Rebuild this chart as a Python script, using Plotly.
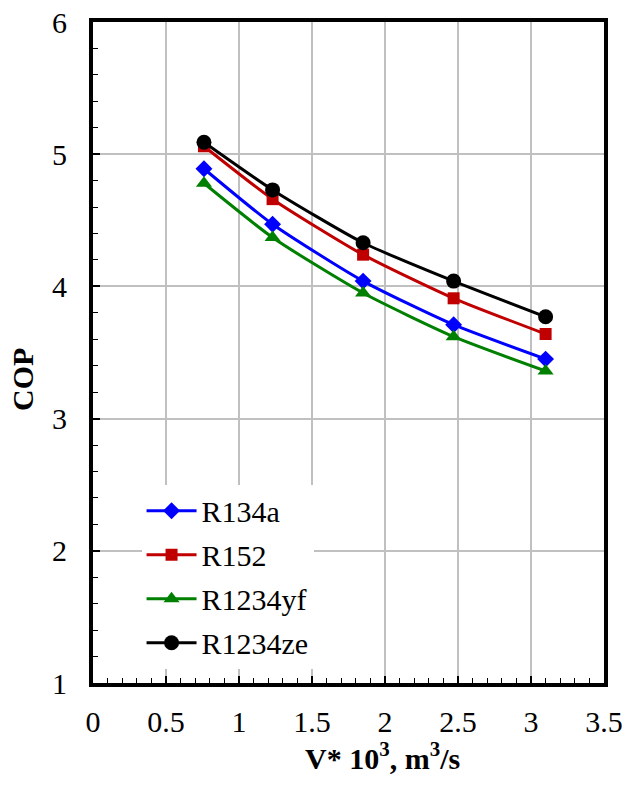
import plotly.graph_objects as go

# Data
flow = [0.76, 1.23, 1.85, 2.47, 3.10]          # V* 10^3, m3/s
cop_r134a = [4.89, 4.47, 4.04, 3.71, 3.45]
cop_r152 = [5.06, 4.66, 4.24, 3.91, 3.64]
cop_r1234yf = [4.78, 4.37, 3.95, 3.62, 3.36]
cop_r1234ze = [5.09, 4.73, 4.33, 4.04, 3.77]

series_names = ["R134a", "R152", "R1234yf", "R1234ze"]
series_values = [cop_r134a, cop_r152, cop_r1234yf, cop_r1234ze]
colors = ["#0000FF", "#C00000", "#008000", "#000000"]
symbols = ["diamond", "square", "triangle-up", "circle"]
msizes = [13, 12, 14, 15]

x_ticks = [0, 0.5, 1, 1.5, 2, 2.5, 3, 3.5]
x_tick_labels = ["0", "0.5", "1", "1.5", "2", "2.5", "3", "3.5"]
y_ticks = [1, 2, 3, 4, 5, 6]
y_tick_labels = ["1", "2", "3", "4", "5", "6"]

FONT = "Liberation Serif, Times New Roman, serif"
FS = 30

fig = go.Figure()
for i, (name, vals) in enumerate(zip(series_names, series_values)):
    fig.add_trace(go.Scatter(
        x=flow, y=vals, name=name, mode="lines+markers",
        legendgroup=name,
        line=dict(color=colors[i], width=3, shape="spline", smoothing=0.6),
        marker=dict(color=colors[i], symbol=symbols[i], size=msizes[i]),
    ))

fig.update_layout(
    width=622, height=791,
    margin=dict(l=93, r=18, t=22, b=108, autoexpand=False),
    plot_bgcolor="white", paper_bgcolor="white",
    font=dict(family=FONT, size=FS, color="black"),
    showlegend=True,
    legend=dict(
        x=0.095, y=0.30, xanchor="left", yanchor="top",
        bgcolor="white", borderwidth=0,
        font=dict(family=FONT, size=FS, color="black"),
        tracegroupgap=2, itemwidth=50,
    ),
    xaxis=dict(
        range=[0, 3.5], tickmode="array", tickvals=x_ticks, ticktext=x_tick_labels,
        automargin=False, ticklabeloverflow="allow",
        showgrid=True, gridcolor="#C0C0C0", gridwidth=1.5,
        showline=True, linecolor="black", linewidth=4, mirror=True,
        ticks="inside", ticklen=7, tickwidth=1.5, tickcolor="black",
        ticklabelstandoff=9,
        minor=dict(dtick=0.1, ticks="inside", ticklen=5, tickwidth=1, tickcolor="black", showgrid=False),
        zeroline=False,
        tickfont=dict(family=FONT, size=FS),
    ),
    yaxis=dict(
        range=[1, 6], tickmode="array", tickvals=y_ticks, ticktext=y_tick_labels,
        automargin=False, ticklabeloverflow="allow",
        showgrid=True, gridcolor="#C0C0C0", gridwidth=1.5,
        showline=True, linecolor="black", linewidth=4, mirror=True,
        ticks="inside", ticklen=7, tickwidth=1.5, tickcolor="black",
        ticklabelstandoff=16,
        minor=dict(dtick=0.2, ticks="inside", ticklen=5, tickwidth=1, tickcolor="black", showgrid=False),
        zeroline=False,
        tickfont=dict(family=FONT, size=FS),
    ),
    annotations=[
        dict(text="<b>V* 10<sup>3</sup>, m<sup>3</sup>/s</b>", xref="paper", yref="paper",
             x=0.5656, y=-0.111, xanchor="center", yanchor="middle", showarrow=False,
             font=dict(family=FONT, size=FS, color="black")),
        dict(text="<b>COP</b>", xref="paper", yref="paper",
             x=-0.137, y=0.46, xanchor="center", yanchor="middle", showarrow=False,
             textangle=-90, font=dict(family=FONT, size=FS, color="black")),
    ],
)

fig.write_html("out.html", config={"displayModeBar": False},
               post_script="document.body.style.margin='0';document.body.style.padding='0';")
